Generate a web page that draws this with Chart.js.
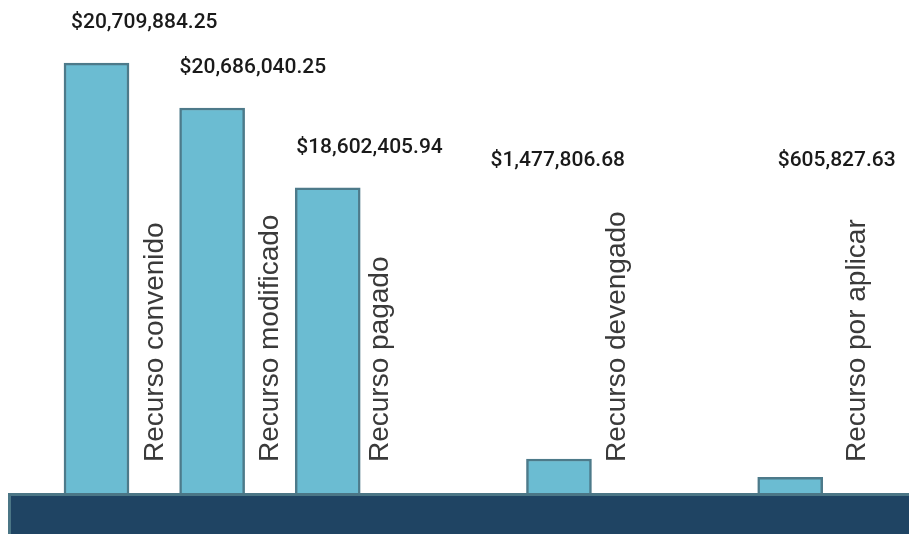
<!DOCTYPE html>
<html>
<head>
<meta charset="utf-8">
<script src="https://cdn.jsdelivr.net/npm/chart.js@4"></script>
<style>
html,body{margin:0;padding:0;background:#fff;}
#wrap{width:909px;height:534px;position:relative;}
</style>
</head>
<body>
<div id="wrap"><canvas id="c" width="909" height="534"></canvas></div>
<script>
// Categories (empty strings are spacer slots in the original layout)
const categorias = ["Recurso convenido", "Recurso modificado", "Recurso pagado", "", "Recurso devengado", "", "Recurso por aplicar"];
// Amounts shown above the bars
const montos = [20709884.25, 20686040.25, 18602405.94, null, 1477806.68, null, 605827.63];
// Bar heights as drawn in the picture (percent of the plot height)
const alturas = [87.2, 78.1, 61.9, null, 6.9, null, 3.2];

const fmt = v => "$" + v.toLocaleString("en-US", {minimumFractionDigits: 2, maximumFractionDigits: 2});

const basePlugin = {
  id: 'base',
  beforeDatasetsDraw(chart) {
    const ctx = chart.ctx;
    const y0 = chart.scales.y.getPixelForValue(0);
    ctx.save();
    ctx.fillStyle = '#4b7686';
    ctx.fillRect(8, y0, chart.width - 8, chart.height - y0);
    ctx.fillStyle = '#1f4463';
    ctx.fillRect(11, y0 + 3, chart.width - 11, chart.height - y0 - 3);
    ctx.restore();
  }
};

const labelPlugin = {
  id: 'etiquetas',
  afterDatasetsDraw(chart, args, opts) {
    const ctx = chart.ctx;
    const meta = chart.getDatasetMeta(0);
    ctx.save();
    meta.data.forEach((bar, i) => {
      if (montos[i] == null) return;
      const half = bar.width / 2;
      const left = bar.x - half;
      const right = bar.x + half;
      // value label
      ctx.font = '500 21px Roboto';
      ctx.fillStyle = '#1a1a1a';
      ctx.textAlign = 'left';
      ctx.textBaseline = 'middle';
      const ly = Math.min(bar.y - 40, 161);
      ctx.fillText(fmt(montos[i]), left + opts.dx[i], ly);
      // rotated category label
      ctx.save();
      ctx.translate(right + opts.tx[i], 462);
      ctx.rotate(-Math.PI / 2);
      ctx.font = '28px "Liberation Sans"';
      ctx.fillStyle = '#3a3a3a';
      ctx.textAlign = 'left';
      ctx.textBaseline = 'alphabetic';
      ctx.fillText(categorias[i], 0, 0);
      ctx.restore();
    });
    ctx.restore();
  }
};

new Chart(document.getElementById('c'), {
  type: 'bar',
  data: {
    labels: categorias,
    datasets: [{
      data: alturas,
      backgroundColor: '#6bbcd2',
      borderColor: '#4d7a8a',
      borderWidth: 2.5,
      borderSkipped: 'bottom',
      barThickness: 65
    }]
  },
  options: {
    responsive: false,
    animation: false,
    devicePixelRatio: 1,
    layout: { padding: { left: 38.7, right: 61, top: 0, bottom: 41 } },
    plugins: {
      legend: { display: false },
      tooltip: { enabled: false },
      etiquetas: { dx: [7, 0, 1, 0, -36, 0, 20], tx: [34, 33, 28, 0, 34, 0, 42] }
    },
    scales: {
      x: { display: false },
      y: { display: false, min: 0, max: 100 }
    }
  },
  plugins: [basePlugin, labelPlugin]
});
</script>
</body>
</html>
